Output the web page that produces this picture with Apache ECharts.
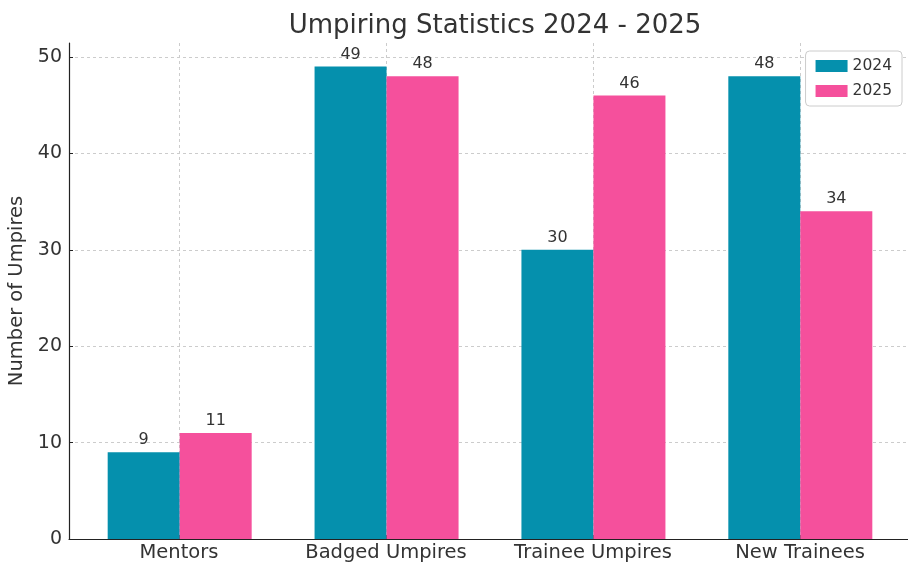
<!DOCTYPE html>
<html>
<head>
<meta charset="utf-8">
<script src="https://cdn.jsdelivr.net/npm/echarts@6/dist/echarts.min.js"></script>
<style>
html,body{margin:0;padding:0;background:#fff;}
#chart{width:908px;height:563px;}
</style>
</head>
<body>
<div id="chart"></div>
<script>
// data
const categories = ['Mentors', 'Badged Umpires', 'Trainee Umpires', 'New Trainees'];
const values2024 = [9, 49, 30, 48];
const values2025 = [11, 48, 46, 34];
const yTicks = [0, 10, 20, 30, 40, 50];

const FONT = 'DejaVu Sans';
const TEXT = '#333';

let chart = echarts.init(document.getElementById('chart'));

function barSeries(name, values, color){
    return {
        name: name,
        type: 'bar',
        xAxisIndex: 0,
        yAxisIndex: 0,
        barWidth: 72,
        barGap: '0%',
        itemStyle: { color: color },
        label: {
            show: true,
            position: 'top',
            distance: 4,
            color: TEXT,
            fontFamily: FONT,
            fontSize: 16
        },
        data: values.map((v, i) => [i, v])
    };
}

let options = {
    animation: false,
    backgroundColor: '#fff',
    title: {
        text: 'Umpiring Statistics 2024 - 2025',
        left: 490,
        textAlign: 'center',
        top: 8,
        textStyle: { fontFamily: FONT, fontSize: 26, fontWeight: 'normal', color: TEXT }
    },
    legend: {
        orient: 'vertical',
        right: 6,
        top: 51,
        data: ['2024', '2025'],
        icon: 'rect',
        itemWidth: 32,
        itemHeight: 12,
        itemGap: 9,
        padding: [7, 10],
        borderColor: '#ccc',
        borderWidth: 1,
        borderRadius: 4,
        backgroundColor: '#fff',
        textStyle: { fontFamily: FONT, fontSize: 15.5, color: TEXT }
    },
    grid: [
        { left: 69, width: 842, top: 43, bottom: 24, containLabel: false, outerBoundsMode: 'none' },
        { left: 179, width: 621, top: 43, bottom: 24, containLabel: false, outerBoundsMode: 'none' }
    ],
    xAxis: [
        {
            type: 'value',
            gridIndex: 0,
            min: -0.535,
            max: 3.535,
            axisLine: { show: true, onZero: false, lineStyle: { color: '#222', width: 1.2 } },
            axisTick: { show: false },
            axisLabel: { show: false },
            splitLine: { show: false }
        },
        {
            type: 'category',
            gridIndex: 1,
            boundaryGap: false,
            data: categories,
            axisLine: { show: false },
            axisTick: { show: true, inside: true, length: 4, lineStyle: { color: '#222' } },
            axisLabel: { interval: 0, hideOverlap: false, color: TEXT, fontFamily: FONT, fontSize: 19.5, margin: 4 },
            splitLine: { show: true, lineStyle: { color: '#ccc', type: [3, 3] } }
        }
    ],
    yAxis: [
        {
            type: 'value',
            gridIndex: 0,
            min: 0,
            max: 51.45,
            interval: 10,
            name: 'Number of Umpires',
            nameLocation: 'middle',
            nameRotate: 90,
            nameGap: 40,
            nameTextStyle: { fontFamily: FONT, fontSize: 19.5, color: TEXT },
            axisLine: { show: true, onZero: false, lineStyle: { color: '#222', width: 1.2 } },
            axisTick: { show: true, inside: true, length: 4, lineStyle: { color: '#222' } },
            axisLabel: {
                color: TEXT, fontFamily: FONT, fontSize: 19, margin: 7,
                showMaxLabel: false,
                formatter: v => yTicks.includes(v) ? String(v) : ''
            },
            splitLine: { show: true, showMaxLine: false, lineStyle: { color: '#ccc', type: [3, 3] } }
        },
        {
            type: 'value',
            gridIndex: 1,
            show: false,
            min: 0,
            max: 1
        }
    ],
    series: [
        barSeries('2024', values2024, '#0590ad'),
        barSeries('2025', values2025, '#f5509c')
    ]
};

chart.setOption(options);
</script>
</body>
</html>
